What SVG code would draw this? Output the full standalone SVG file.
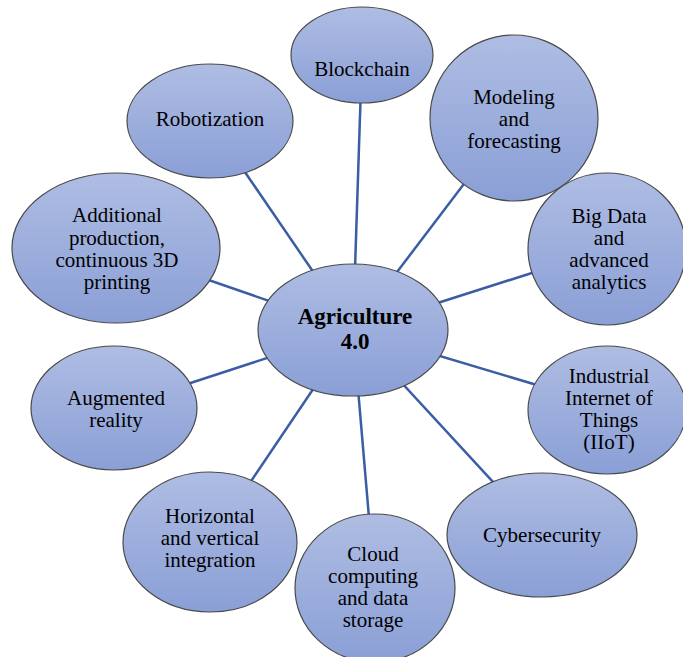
<svg xmlns="http://www.w3.org/2000/svg" width="683" height="657" viewBox="0 0 683 657">
<defs>
<linearGradient id="g" x1="0" y1="0" x2="0" y2="1">
<stop offset="0" stop-color="#afbde3"/>
<stop offset="1" stop-color="#8a9fd6"/>
</linearGradient>
<style>
ellipse{fill:url(#g);stroke:#4a4a4a;stroke-width:1.2}
text{font-size:21px;fill:#000;text-anchor:middle}
.b{font-weight:bold;font-size:23px}
#connectors line{stroke:#3a5da6;stroke-width:2.5}
</style>
</defs>
<rect width="683" height="657" fill="#fff"/>
<g id="connectors">
<line x1="353" y1="330" x2="362" y2="55"/>
<line x1="353" y1="330" x2="514" y2="118"/>
<line x1="353" y1="330" x2="607" y2="249"/>
<line x1="353" y1="330" x2="607" y2="406"/>
<line x1="353" y1="330" x2="542" y2="535"/>
<line x1="353" y1="330" x2="375" y2="588"/>
<line x1="353" y1="330" x2="210" y2="542"/>
<line x1="353" y1="330" x2="114" y2="408"/>
<line x1="353" y1="330" x2="116" y2="248"/>
<line x1="353" y1="330" x2="210" y2="121"/>
</g>
<g font-family="Liberation Serif, Tinos, Times New Roman, serif">
<g id="blockchain"><ellipse cx="362" cy="55" rx="71" ry="48"/><text x="362" y="76">Blockchain</text></g>
<g id="modeling"><ellipse cx="514" cy="118" rx="84" ry="83"/><text x="514" y="104">Modeling</text><text x="514" y="126">and</text><text x="514" y="148">forecasting</text></g>
<g id="bigdata"><ellipse cx="607" cy="249" rx="79" ry="76"/><text x="609" y="223">Big Data</text><text x="609" y="245">and</text><text x="609" y="267">advanced</text><text x="609" y="289">analytics</text></g>
<g id="iiot"><ellipse cx="607" cy="410" rx="79" ry="64"/><text x="609" y="383">Industrial</text><text x="609" y="405">Internet of</text><text x="609" y="427">Things</text><text x="609" y="449">(IIoT)</text></g>
<g id="cybersecurity"><ellipse cx="542" cy="535" rx="95" ry="62"/><text x="542" y="542">Cybersecurity</text></g>
<g id="cloud"><ellipse cx="375" cy="588" rx="80" ry="74"/><text x="373" y="561">Cloud</text><text x="373" y="583">computing</text><text x="373" y="605">and data</text><text x="373" y="627">storage</text></g>
<g id="horizontal"><ellipse cx="210" cy="542" rx="87" ry="70"/><text x="210" y="523">Horizontal</text><text x="210" y="545">and vertical</text><text x="210" y="567">integration</text></g>
<g id="augmented"><ellipse cx="114" cy="408" rx="83" ry="62"/><text x="116" y="405">Augmented</text><text x="116" y="427">reality</text></g>
<g id="additional"><ellipse cx="116" cy="248" rx="104" ry="75"/><text x="117" y="222">Additional</text><text x="117" y="245">production,</text><text x="117" y="267">continuous 3D</text><text x="117" y="289">printing</text></g>
<g id="robotization"><ellipse cx="210" cy="121" rx="83" ry="57"/><text x="210" y="126">Robotization</text></g>
<g id="center"><ellipse cx="353" cy="330" rx="95" ry="66"/><text class="b" x="355" y="324">Agriculture</text><text class="b" x="355" y="349">4.0</text></g>
</g>
</svg>
